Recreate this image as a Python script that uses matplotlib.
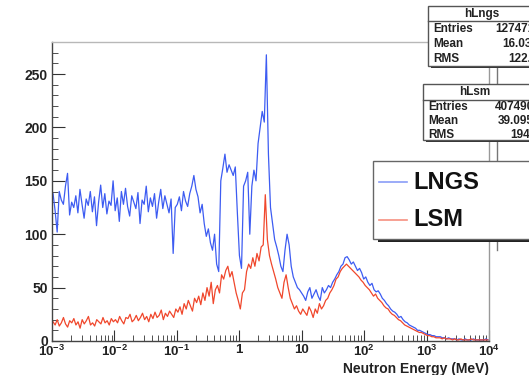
import numpy as np
import matplotlib
matplotlib.use("Agg")
import matplotlib.pyplot as plt
from matplotlib.patches import Rectangle
from matplotlib.lines import Line2D
from matplotlib.ticker import FixedLocator, FixedFormatter, NullFormatter

plt.rcParams['font.family'] = ['Liberation Sans', 'DejaVu Sans']
plt.rcParams['font.weight'] = 'bold'
plt.rcParams['mathtext.fontset'] = 'custom'
plt.rcParams['mathtext.rm'] = 'Liberation Sans:bold'
plt.rcParams['mathtext.it'] = 'Liberation Sans:bold'
plt.rcParams['mathtext.bf'] = 'Liberation Sans:bold'

# histogram contents, 30 log bins per decade from 1e-3 to 1e4 MeV
lngs = [138, 122, 102, 140, 132, 128, 145, 157, 118, 130, 125, 136, 120, 142, 128,
        115, 133, 127, 140, 121, 135, 108, 130, 146, 125, 138, 119, 131, 127, 150,
        122, 134, 112, 140, 128, 143, 126, 117, 136, 130, 124, 139, 110, 132, 128,
        145, 121, 134, 126, 138, 115, 130, 142, 124, 136, 128, 120, 133, 82, 125,
        128, 135, 122, 140, 131, 126, 138, 145, 155, 142, 135, 120, 128, 110, 98,
        105, 92, 85, 100, 72, 65,
        150, 162, 175, 158, 165, 160, 155, 163,
        120, 80, 68,
        145, 150, 158, 100, 145, 160, 150, 185, 200, 215, 205, 268,
        175, 125, 110, 95, 88, 80, 70, 65,
        85, 100, 90, 70,
        60, 55, 50, 48, 45, 42, 38, 46, 50, 40, 44, 48, 42, 38, 50, 45,
        48, 52, 50, 55, 58, 62, 65, 70, 72, 78, 79,
        76, 72, 74, 70, 66, 68, 64, 58, 60,
        55, 52, 54, 48, 46, 47, 44, 40, 38, 35,
        33, 30, 28, 27, 25, 22, 23, 20, 18, 17,
        15, 14, 13, 12, 10, 10, 9, 8, 7, 6,
        6, 5, 5, 4, 4, 4, 3, 3, 2, 3,
        2, 2, 2, 1, 2, 1, 1, 2, 1, 1, 1, 2, 1, 1, 1, 1, 1, 2, 1]

lsm = [18, 15, 20, 14, 17, 22, 16, 13, 19, 17, 21, 15, 18, 12, 20, 16, 19, 23, 15, 17,
       14, 20, 18, 16, 22, 17, 19, 15, 21, 18,
       20, 17, 23, 19, 16, 22, 21, 25, 18, 20, 24, 19, 22, 26, 20, 23, 18, 25, 21, 27,
       22, 24, 29, 20, 26, 23, 28, 25, 22, 30,
       27, 32, 25, 35, 30, 38, 33, 28, 40, 36, 42, 34, 45, 38, 50, 42, 55, 35, 48, 52, 45,
       62, 58, 66, 70, 60, 65, 55, 45,
       38, 30,
       45, 48, 65, 72, 68, 78, 70, 82, 75, 88, 90, 137,
       95, 80, 72, 65, 58, 50, 45, 40,
       55, 62, 50, 40,
       35, 30, 33, 28, 25, 30, 27, 24, 32, 28, 22, 30, 26, 35, 30, 33,
       38, 40, 45, 48, 52, 58, 60, 65, 68, 70, 72,
       70, 68, 66, 64, 62, 60, 57, 55, 52,
       50, 48, 45, 42, 44, 40, 38, 36, 33, 31,
       30, 27, 25, 24, 22, 20, 19, 17, 15, 14,
       13, 12, 11, 10, 9, 8, 8, 7, 6, 5,
       5, 4, 4, 3, 3, 3, 2, 3, 2, 2,
       2, 1, 2, 1, 1, 2, 1, 1, 1, 1, 2, 1, 1, 1, 1, 1, 1, 1, 1]

blue = '#3d5cf2'
red = '#f0472c'

W, H = 529, 375
fig = plt.figure(figsize=(W / 100, H / 100), dpi=100)
ax = fig.add_axes([52 / W, 1 - 341 / H, (489 - 52) / W, (341 - 42) / H])

edges_b = np.logspace(-3, 4, len(lngs) + 1)
edges_r = np.logspace(-3, 4, len(lsm) + 1)
cen_b = np.sqrt(edges_b[:-1] * edges_b[1:])
cen_r = np.sqrt(edges_r[:-1] * edges_r[1:])
ax.plot(cen_b, lngs, color=blue, lw=0.9)
ax.plot(cen_r, lsm, color=red, lw=0.9)

ax.set_xscale('log')
ax.set_xlim(1e-3, 1e4)
ax.set_ylim(0, 280)

xt = [1e-3, 1e-2, 1e-1, 1, 10, 1e2, 1e3, 1e4]
xl = [r'$10^{-3}$', r'$10^{-2}$', r'$10^{-1}$', '1', '10', r'$10^{2}$', r'$10^{3}$', r'$10^{4}$']
ax.xaxis.set_major_locator(FixedLocator(xt))
ax.xaxis.set_major_formatter(FixedFormatter(xl))
minors = [m * 10.0 ** d for d in range(-3, 4) for m in range(2, 10)]
ax.xaxis.set_minor_locator(FixedLocator(minors))
ax.xaxis.set_minor_formatter(NullFormatter())
ax.set_yticks([0, 50, 100, 150, 200, 250])
ax.set_yticks(np.arange(0, 281, 10), minor=True)

ax.tick_params(which='both', direction='in', top=False, right=False,
               labelsize=10, colors='#333333')
ax.tick_params(axis='x', which='major', length=8, pad=2, labelsize=9.5)
ax.tick_params(axis='x', which='minor', length=4)
ax.tick_params(axis='y', which='major', length=9, pad=3)
ax.tick_params(axis='y', which='minor', length=4)
for lab in ax.get_xticklabels() + ax.get_yticklabels():
    lab.set_fontweight('bold')
    lab.set_color('#222222')

ax.spines['left'].set_color('#444444')
ax.spines['bottom'].set_color('#444444')
ax.spines['top'].set_color('#b8b8b8')
ax.spines['right'].set_color('#999999')
for s in ax.spines.values():
    s.set_linewidth(1.0)

fig.text(489 / W, 1 - 369 / H, 'Neutron Energy (MeV)', ha='right', va='center',
         fontsize=10, fontweight='bold', color='#222222')


def px(x, y):
    return x / W, 1 - y / H


def statbox(left, top, bottom, sep, title, tx, rows):
    fig.patches.append(Rectangle(px(left + 3, bottom + 2), (W + 20 - left) / W, 2.5 / H,
                                 transform=fig.transFigure, facecolor='#333333',
                                 edgecolor='none', zorder=5))
    fig.patches.append(Rectangle(px(left, bottom), (W + 20 - left) / W, (bottom - top) / H,
                                 transform=fig.transFigure, facecolor='white',
                                 edgecolor='#555555', lw=1.0, zorder=6))
    fig.lines.append(Line2D([left / W, 1.0], [1 - sep / H] * 2, transform=fig.transFigure,
                            color='#555555', lw=1.0, zorder=7))
    fig.text(*px(tx, (top + sep) / 2), title, ha='center', va='center', fontsize=8.5,
             fontweight='bold', color='#222222', zorder=8)
    for name, val, y, vx in rows:
        fig.text(*px(left + 5, y), name, ha='left', va='center', fontsize=8.5,
                 fontweight='bold', color='#222222', zorder=8)
        fig.text(*px(vx, y), val, ha='left', va='center', fontsize=8.5,
                 fontweight='bold', color='#222222', zorder=8)


# connector lines between the boxes
fig.lines.append(Line2D([497 / W] * 2, [1 - 66 / H, 1 - 161 / H], transform=fig.transFigure,
                        color='#777777', lw=1.0, zorder=4))
fig.lines.append(Line2D([497 / W] * 2, [1 - 241 / H, 1 - 250 / H], transform=fig.transFigure,
                        color='#777777', lw=1.0, zorder=4))

statbox(428, 6, 66, 21, 'hLngs', 482,
        [('Entries', '1274716', 29, 495), ('Mean', '16.035', 44, 502),
         ('RMS', '122.8', 59, 508)])
statbox(423, 84, 140, 100, 'hLsm', 475,
        [('Entries', '407490', 107, 495), ('Mean', '39.095', 121, 498),
         ('RMS', '194.2', 135, 510)])

# legend box
fig.patches.append(Rectangle(px(378, 242), (W + 20 - 378) / W, 3 / H,
                             transform=fig.transFigure, facecolor='#222222',
                             edgecolor='none', zorder=5))
fig.patches.append(Rectangle(px(373, 239), (W + 20 - 373) / W, (239 - 161) / H,
                             transform=fig.transFigure, facecolor='white',
                             edgecolor='#666666', lw=1.0, zorder=6))
for label, col, y in [('LNGS', blue, 182), ('LSM', red, 220)]:
    fig.lines.append(Line2D([379 / W, 407 / W], [1 - y / H] * 2, transform=fig.transFigure,
                            color=col, lw=1.2, alpha=0.6, zorder=7))
    fig.text(*px(413, y), label, ha='left', va='center', fontsize=17,
             fontweight='bold', color='#111111', zorder=8)

fig.savefig('out.png', dpi=100)
